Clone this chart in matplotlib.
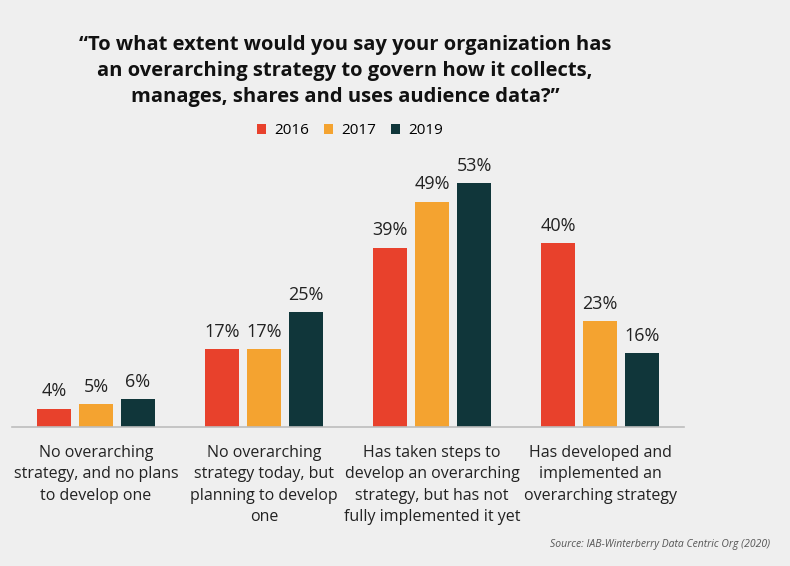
import matplotlib
matplotlib.use("Agg")
import matplotlib.pyplot as plt
import numpy as np

categories = [
    "No overarching\nstrategy, and no plans\nto develop one",
    "No overarching\nstrategy today, but\nplanning to develop\none",
    "Has taken steps to\ndevelop an overarching\nstrategy, but has not\nfully implemented it yet",
    "Has developed and\nimplemented an\noverarching strategy",
]
years = ["2016", "2017", "2019"]
values_2016 = [4, 17, 39, 40]
values_2017 = [5, 17, 49, 23]
values_2019 = [6, 25, 53, 16]
colors = ["#e8412c", "#f4a330", "#10363a"]
title = ("\u201cTo what extent would you say your organization has\n"
         "an overarching strategy to govern how it collects,\n"
         "manages, shares and uses audience data?\u201d")
source = "Source: IAB-Winterberry Data Centric Org (2020)"

plt.rcParams["font.family"] = ["Open Sans", "DejaVu Sans"]
bg = "#efefef"
fig = plt.figure(figsize=(7.9, 5.66), dpi=100, facecolor=bg)
W, H = 790, 566
ax = fig.add_axes([12 / W, 1 - 427 / H, (684 - 12) / W, (427 - 151) / H])
ax.set_facecolor(bg)

x = np.arange(len(categories))
series = [values_2016, values_2017, values_2019]
offsets = [-0.25, 0, 0.25]
for vals, off, col, yr in zip(series, offsets, colors, years):
    bars = ax.bar(x + off, vals, width=0.2, color=col, label=yr, zorder=2)
    for b, v in zip(bars, vals):
        ax.text(b.get_x() + b.get_width() / 2, v + 1.8, f"{v}%",
                ha="center", va="bottom", fontsize=13, color="#222222")

ax.set_xlim(-0.5, 3.5)
ax.set_ylim(0, 60)
for s in ["top", "right", "left"]:
    ax.spines[s].set_visible(False)
ax.spines["bottom"].set_color("#bdbdbd")
ax.spines["bottom"].set_linewidth(1.2)
ax.set_yticks([])
ax.set_xticks(x)
ax.set_xticklabels(categories, fontsize=11.5, color="#222222", linespacing=1.45)
ax.tick_params(axis="x", length=0, pad=13)

fig.text(345 / W, 1 - 71 / H, title, ha="center", va="center",
         fontsize=14.5, fontweight="bold", color="#111111", linespacing=1.42)

leg = fig.legend(loc="center", bbox_to_anchor=(350 / W, 1 - 131 / H), ncol=3,
                 frameon=False, fontsize=11, handlelength=0.6, handleheight=0.6,
                 handletextpad=0.5, columnspacing=1.0)

fig.text(770 / W, 1 - 545 / H, source, ha="right", va="center",
         fontsize=7.5, style="italic", color="#555555")

fig.savefig("out.png", dpi=100, facecolor=bg)
